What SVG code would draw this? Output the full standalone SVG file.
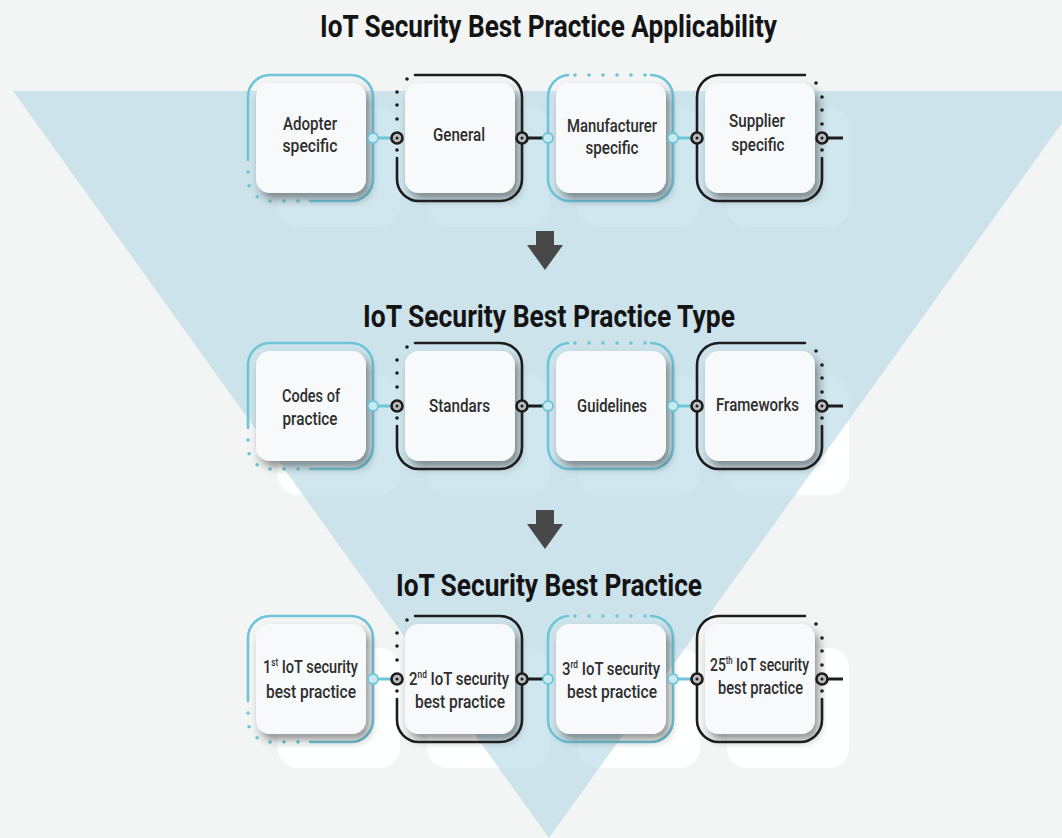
<svg xmlns="http://www.w3.org/2000/svg" width="1062" height="838" viewBox="0 0 1062 838">
<defs>
<style>
.h{font-family:Roboto,"Liberation Sans",sans-serif;font-weight:700;font-size:31px;fill:#141414;text-anchor:middle}
.t{font-family:Roboto,"Liberation Sans",sans-serif;font-weight:500;font-size:18px;fill:#2d2d2d;text-anchor:middle}
.card{fill:#f8f9fb;filter:url(#sh)}
.ghost{fill:#ffffff;fill-opacity:0.92}
.ob{fill:none;stroke:#6fc5d8;stroke-width:2.6;stroke-linecap:round}
.ok{fill:none;stroke:#1c1c1c;stroke-width:2.6;stroke-linecap:round}
.db{fill:#6fc5d8}
.dk{fill:#1c1c1c}
.lb{stroke:#6fc5d8;stroke-width:3}
.lk{stroke:#1c1c1c;stroke-width:3}
.rb{fill:#c9e9f1;stroke:#6fc5d8;stroke-width:1.8}
.rk{fill:#b9bcbd;stroke:#1c1c1c;stroke-width:2.6}
.arrow{fill:#484848}
</style>
<filter id="sh" x="-20%" y="-20%" width="150%" height="150%">
<feDropShadow dx="4" dy="6" stdDeviation="4" flood-color="#2a2a2a" flood-opacity="0.5"/>
</filter>
<g id="fa">
<path class="ob" d="M -8 77 V 14 A 22 22 0 0 1 14 -8 H 95 A 22 22 0 0 1 117 14 V 96 A 22 22 0 0 1 95 118 H 54"/>
<circle class="db" cx="-8" cy="89" r="1.8"/><circle class="db" cx="-6.9" cy="102.8" r="1.8"/><circle class="db" cx="1.1" cy="113.8" r="1.8"/><circle class="db" cx="14" cy="118" r="1.8"/><circle class="db" cx="28" cy="118" r="1.8"/><circle class="db" cx="42" cy="118" r="1.8"/>
</g>
<g id="fb">
<path class="ok" d="M 10 -8 H 95 A 22 22 0 0 1 117 14 V 96 A 22 22 0 0 1 95 118 H 14 A 22 22 0 0 1 -8 96 V 75"/>
<circle class="dk" cx="-8" cy="67" r="1.8"/><circle class="dk" cx="-8" cy="36" r="1.8"/><circle class="dk" cx="-8" cy="22" r="1.8"/><circle class="dk" cx="-8" cy="9" r="1.8"/><circle class="dk" cx="2" cy="-4" r="1.8"/>
</g>
<g id="fc">
<path class="ob" d="M 95 -8 A 22 22 0 0 1 117 14 V 96 A 22 22 0 0 1 95 118 H 14 A 22 22 0 0 1 -8 96 V 14 A 22 22 0 0 1 12 -8"/>
<circle class="db" cx="19" cy="-8" r="1.8"/><circle class="db" cx="33" cy="-8" r="1.8"/><circle class="db" cx="47" cy="-8" r="1.8"/><circle class="db" cx="61" cy="-8" r="1.8"/><circle class="db" cx="75" cy="-8" r="1.8"/><circle class="db" cx="89" cy="-8" r="1.8"/>
</g>
<g id="fd">
<path class="ok" d="M 100 -8 H 14 A 22 22 0 0 0 -8 14 V 96 A 22 22 0 0 0 14 118 H 95 A 22 22 0 0 0 117 96 V 75"/>
<circle class="dk" cx="111" cy="0" r="1.8"/><circle class="dk" cx="117" cy="14" r="1.8"/><circle class="dk" cx="117" cy="27" r="1.8"/><circle class="dk" cx="117" cy="41" r="1.8"/><circle class="dk" cx="117" cy="67" r="1.8"/>
</g>
<rect id="cd" class="card" x="0" y="0" width="110" height="110" rx="14"/>
<rect id="gh" class="ghost" x="22" y="24" width="122" height="120" rx="20"/>
</defs>

<rect x="0" y="0" width="1062" height="838" fill="#f3f4f4"/>

<g id="ghosts">
<use href="#gh" x="256" y="83"/><use href="#gh" x="405" y="83"/><use href="#gh" x="556" y="83"/><use href="#gh" x="705" y="83"/>
<use href="#gh" x="256" y="351"/><use href="#gh" x="405" y="351"/><use href="#gh" x="556" y="351"/><use href="#gh" x="705" y="351"/>
<use href="#gh" x="256" y="624"/><use href="#gh" x="405" y="624"/><use href="#gh" x="556" y="624"/><use href="#gh" x="705" y="624"/>
</g>

<polygon points="13,91 1085,91 549,838" fill="#b5d9e5" fill-opacity="0.62"/>

<g id="titles">
<text class="h" x="548.5" y="37" textLength="457" lengthAdjust="spacingAndGlyphs">IoT Security Best Practice Applicability</text>
<text class="h" x="549" y="327" textLength="372" lengthAdjust="spacingAndGlyphs">IoT Security Best Practice Type</text>
<text class="h" x="549" y="596" textLength="306" lengthAdjust="spacingAndGlyphs">IoT Security Best Practice</text>
</g>

<g id="arrows">
<rect class="arrow" x="536" y="231" width="18" height="15"/>
<polygon class="arrow" points="527,245 563,245 545,270"/>
<rect class="arrow" x="536" y="510" width="18" height="15"/>
<polygon class="arrow" points="527,524 563,524 545,549"/>
</g>

<g id="n-adopter" transform="translate(256,83)">
<use href="#fa"/><use href="#cd"/>
<text class="t" x="54" y="47" textLength="54" lengthAdjust="spacingAndGlyphs">Adopter</text>
<text class="t" x="54" y="69" textLength="55" lengthAdjust="spacingAndGlyphs">specific</text>
</g>
<g id="n-general" transform="translate(405,83)">
<use href="#fb"/><use href="#cd"/>
<text class="t" x="54" y="58" textLength="52" lengthAdjust="spacingAndGlyphs">General</text>
</g>
<g id="n-manufacturer" transform="translate(556,83)">
<use href="#fc"/><use href="#cd"/>
<text class="t" x="56" y="49" textLength="90" lengthAdjust="spacingAndGlyphs">Manufacturer</text>
<text class="t" x="56" y="71" textLength="53" lengthAdjust="spacingAndGlyphs">specific</text>
</g>
<g id="n-supplier" transform="translate(705,83)">
<use href="#fd"/><use href="#cd"/>
<text class="t" x="52" y="44" textLength="56" lengthAdjust="spacingAndGlyphs">Supplier</text>
<text class="t" x="53" y="68" textLength="53" lengthAdjust="spacingAndGlyphs">specific</text>
</g>

<g id="n-codes" transform="translate(256,351)">
<use href="#fa"/><use href="#cd"/>
<text class="t" x="55" y="51" textLength="58" lengthAdjust="spacingAndGlyphs">Codes of</text>
<text class="t" x="54" y="74" textLength="55" lengthAdjust="spacingAndGlyphs">practice</text>
</g>
<g id="n-standars" transform="translate(405,351)">
<use href="#fb"/><use href="#cd"/>
<text class="t" x="54.5" y="61" textLength="61" lengthAdjust="spacingAndGlyphs">Standars</text>
</g>
<g id="n-guidelines" transform="translate(556,351)">
<use href="#fc"/><use href="#cd"/>
<text class="t" x="56" y="61" textLength="70" lengthAdjust="spacingAndGlyphs">Guidelines</text>
</g>
<g id="n-frameworks" transform="translate(705,351)">
<use href="#fd"/><use href="#cd"/>
<text class="t" x="52.5" y="60" textLength="83" lengthAdjust="spacingAndGlyphs">Frameworks</text>
</g>

<g id="n-bp1" transform="translate(256,624)">
<use href="#fa"/><use href="#cd"/>
<text class="t" x="54.5" y="49" textLength="95" lengthAdjust="spacingAndGlyphs">1<tspan font-size="10" dy="-7">st</tspan><tspan dy="7"> IoT security</tspan></text>
<text class="t" x="55" y="74" textLength="90" lengthAdjust="spacingAndGlyphs">best practice</text>
</g>
<g id="n-bp2" transform="translate(405,624)">
<use href="#fb"/><use href="#cd"/>
<text class="t" x="54" y="61" textLength="100" lengthAdjust="spacingAndGlyphs">2<tspan font-size="10" dy="-7">nd</tspan><tspan dy="7"> IoT security</tspan></text>
<text class="t" x="55" y="84" textLength="90" lengthAdjust="spacingAndGlyphs">best practice</text>
</g>
<g id="n-bp3" transform="translate(556,624)">
<use href="#fc"/><use href="#cd"/>
<text class="t" x="55" y="51" textLength="98" lengthAdjust="spacingAndGlyphs">3<tspan font-size="10" dy="-7">rd</tspan><tspan dy="7"> IoT security</tspan></text>
<text class="t" x="56" y="74" textLength="90" lengthAdjust="spacingAndGlyphs">best practice</text>
</g>
<g id="n-bp25" transform="translate(705,624)">
<use href="#fd"/><use href="#cd"/>
<text class="t" x="54.5" y="47" textLength="99" lengthAdjust="spacingAndGlyphs">25<tspan font-size="10" dy="-7">th</tspan><tspan dy="7"> IoT security</tspan></text>
<text class="t" x="55.5" y="70" textLength="85" lengthAdjust="spacingAndGlyphs">best practice</text>
</g>

<g id="connectors">
<line class="lb" x1="373" y1="138" x2="397" y2="138"/>
<line class="lk" x1="522" y1="138" x2="548" y2="138"/>
<line class="lb" x1="673" y1="138" x2="697" y2="138"/>
<line class="lk" x1="822" y1="138" x2="843" y2="138"/>
<line class="lb" x1="373" y1="406" x2="397" y2="406"/>
<line class="lk" x1="522" y1="406" x2="548" y2="406"/>
<line class="lb" x1="673" y1="406" x2="697" y2="406"/>
<line class="lk" x1="822" y1="406" x2="843" y2="406"/>
<line class="lb" x1="373" y1="679" x2="397" y2="679"/>
<line class="lk" x1="522" y1="679" x2="548" y2="679"/>
<line class="lb" x1="673" y1="679" x2="697" y2="679"/>
<line class="lk" x1="822" y1="679" x2="843" y2="679"/>
<g id="rings">
<circle class="rb" cx="373" cy="138" r="5"/><circle class="rk" cx="397" cy="138" r="5.5"/><circle class="dk" cx="397" cy="138" r="1.5"/>
<circle class="rk" cx="522" cy="138" r="5.5"/><circle class="dk" cx="522" cy="138" r="1.5"/><circle class="rb" cx="548" cy="138" r="5"/>
<circle class="rb" cx="673" cy="138" r="5"/><circle class="rk" cx="697" cy="138" r="5.5"/><circle class="dk" cx="697" cy="138" r="1.5"/>
<circle class="rk" cx="822" cy="138" r="5.5"/><circle class="dk" cx="822" cy="138" r="1.5"/>
<circle class="rb" cx="373" cy="406" r="5"/><circle class="rk" cx="397" cy="406" r="5.5"/><circle class="dk" cx="397" cy="406" r="1.5"/>
<circle class="rk" cx="522" cy="406" r="5.5"/><circle class="dk" cx="522" cy="406" r="1.5"/><circle class="rb" cx="548" cy="406" r="5"/>
<circle class="rb" cx="673" cy="406" r="5"/><circle class="rk" cx="697" cy="406" r="5.5"/><circle class="dk" cx="697" cy="406" r="1.5"/>
<circle class="rk" cx="822" cy="406" r="5.5"/><circle class="dk" cx="822" cy="406" r="1.5"/>
<circle class="rb" cx="373" cy="679" r="5"/><circle class="rk" cx="397" cy="679" r="5.5"/><circle class="dk" cx="397" cy="679" r="1.5"/>
<circle class="rk" cx="522" cy="679" r="5.5"/><circle class="dk" cx="522" cy="679" r="1.5"/><circle class="rb" cx="548" cy="679" r="5"/>
<circle class="rb" cx="673" cy="679" r="5"/><circle class="rk" cx="697" cy="679" r="5.5"/><circle class="dk" cx="697" cy="679" r="1.5"/>
<circle class="rk" cx="822" cy="679" r="5.5"/><circle class="dk" cx="822" cy="679" r="1.5"/>
</g>
</g>
</svg>
